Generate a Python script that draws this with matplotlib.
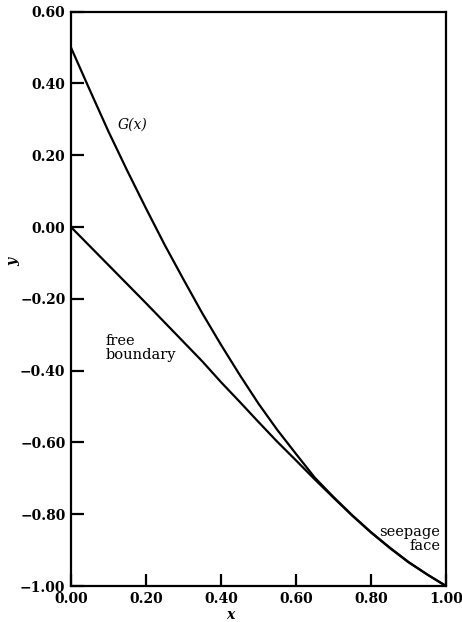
import numpy as np
import matplotlib
matplotlib.use('Agg')
import matplotlib.pyplot as plt

x_vals = [0.00, 0.05, 0.10, 0.15, 0.20, 0.25, 0.30, 0.35, 0.40, 0.45, 0.50,
          0.55, 0.60, 0.65, 0.70, 0.75, 0.80, 0.85, 0.90, 0.95, 1.00]

# G(x)
g_vals = [0.500, 0.382, 0.266, 0.157, 0.052, -0.050, -0.146, -0.240, -0.328, -0.412, -0.492,
          -0.565, -0.632, -0.698, -0.752, -0.803, -0.850, -0.893, -0.933, -0.968, -1.000]

# free boundary
free_vals = [0.000, -0.053, -0.106, -0.159, -0.212, -0.266, -0.320, -0.374, -0.432, -0.487, -0.543,
             -0.598, -0.650, -0.703, -0.754, -0.804, -0.851, -0.894, -0.934, -0.968, -1.000]

xticks = [0.0, 0.2, 0.4, 0.6, 0.8, 1.0]
yticks = [-1.0, -0.8, -0.6, -0.4, -0.2, 0.0, 0.2, 0.4, 0.6]

plt.rcParams['font.family'] = ['DejaVu Serif']

fig = plt.figure(figsize=(4.62, 6.22), dpi=100)
ax = fig.add_axes([71 / 462, 1 - 586 / 622, 375 / 462, 574.3 / 622])

ax.plot(x_vals, g_vals, color='black', lw=1.6)
ax.plot(x_vals, free_vals, color='black', lw=1.6)

ax.set_xlim(0, 1)
ax.set_ylim(-1.0, 0.6)
ax.set_xticks(xticks)
ax.set_yticks(yticks)
ax.set_xticklabels(['%.2f' % t for t in xticks], fontweight='bold', fontsize=10)
ax.set_yticklabels([('%.2f' % t).replace('-', '\u2212') for t in yticks], fontweight='bold', fontsize=10)
ax.tick_params(direction='in', length=9, width=1.6, pad=4)
ax.tick_params(top=False, right=False)
for s in ax.spines.values():
    s.set_linewidth(1.6)

ax.text(0.163, 0.284, 'G(x)', fontsize=10, style='italic', ha='center', va='center')
ax.text(0.093, -0.336, 'free\nboundary', fontsize=10.5, ha='left', va='center', linespacing=1.0)
ax.text(0.984, -0.87, 'seepage\nface', fontsize=10.5, ha='right', va='center', linespacing=1.0, multialignment='right')

ax.set_xlabel('x', fontsize=10, style='italic', fontweight='bold')
ax.set_ylabel('y', fontsize=10, style='italic', fontweight='bold')
ax.xaxis.set_label_coords(0.424, -0.038)
ax.yaxis.set_label_coords(-0.136, 0.564)

fig.savefig('out.png', dpi=100)
